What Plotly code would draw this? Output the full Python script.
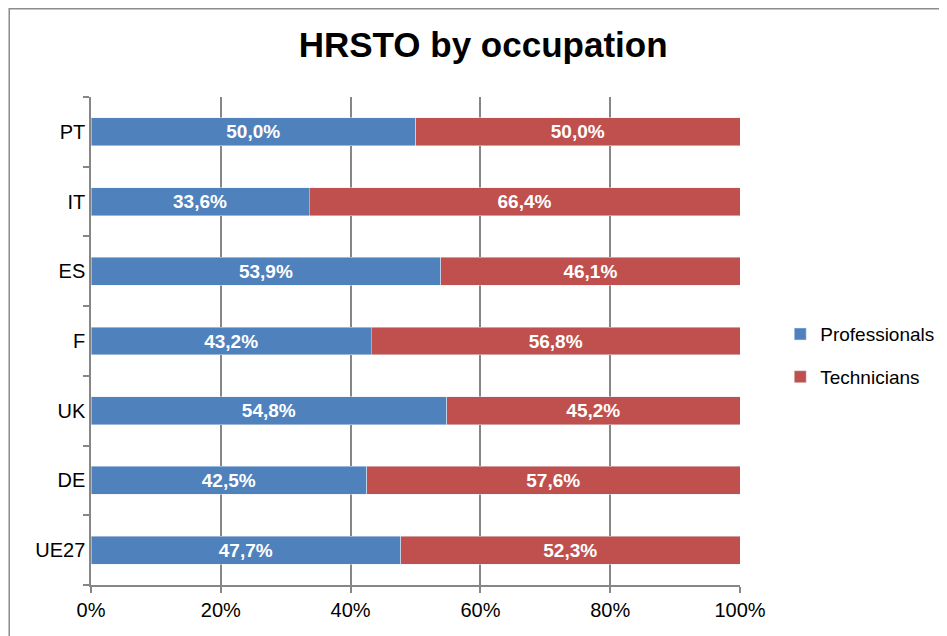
import plotly.graph_objects as go

countries = ["UE27", "DE", "UK", "F", "ES", "IT", "PT"]
professionals = [47.7, 42.5, 54.8, 43.2, 53.9, 33.6, 50.0]
technicians = [52.3, 57.6, 45.2, 56.8, 46.1, 66.4, 50.0]
x_ticks = [0, 20, 40, 60, 80, 100]


def pct_label(v):
    return f"{v:.1f}%".replace(".", ",")


fig = go.Figure()
fig.add_trace(
    go.Bar(
        y=countries, x=professionals, orientation="h", name="Professionals",
        marker_color="#4F81BD", legendgroup="p",
        text=[pct_label(v) for v in professionals], textposition="inside",
        insidetextanchor="middle",
        textfont=dict(color="white", size=19, family="Liberation Sans", weight="bold"),
        hoverinfo="skip",
    )
)
fig.add_trace(
    go.Bar(
        y=countries, x=technicians, orientation="h", name="Technicians",
        marker_color="#C0504D", legendgroup="t",
        text=[pct_label(v) for v in technicians], textposition="inside",
        insidetextanchor="middle",
        textfont=dict(color="white", size=19, family="Liberation Sans", weight="bold"),
        hoverinfo="skip",
    )
)

axis_gray = "#868686"

# page body has an 8px margin, so the figure is sized to fit the window
fig.update_layout(
    width=939, height=628,
    barmode="stack", barnorm="percent", bargap=0.6,
    paper_bgcolor="white", plot_bgcolor="white",
    margin=dict(l=83, r=207, t=89, b=51, autoexpand=False),
    font=dict(family="Liberation Sans", size=20, color="black"),
    title=dict(
        text="<b>HRSTO by occupation</b>",
        x=0.506, xanchor="center", y=0.941, yanchor="middle", yref="container",
        font=dict(size=35, family="Liberation Sans", color="black"),
    ),
    legend=dict(
        x=1.062, xanchor="left", y=0.47, yanchor="middle",
        traceorder="grouped", tracegroupgap=15,
        font=dict(size=19), itemwidth=30,
    ),
    xaxis=dict(
        range=[0, 100], tickvals=x_ticks, ticktext=[f"{t}%" for t in x_ticks],
        showgrid=True, gridcolor=axis_gray, gridwidth=1.5,
        showline=True, linecolor=axis_gray, linewidth=1.5,
        ticks="outside", ticklen=6, tickcolor=axis_gray, tickwidth=1.5,
        zeroline=False, fixedrange=True, automargin=False,
    ),
    yaxis=dict(
        showgrid=False, showline=True, linecolor=axis_gray, linewidth=1.5,
        ticks="outside", ticklen=6, tickcolor=axis_gray, tickwidth=1.5,
        tickson="boundaries", zeroline=False, fixedrange=True, automargin=False,
    ),
    shapes=[
        dict(
            type="rect", xref="paper", yref="paper",
            x0=-0.126, x1=1.33, y0=-0.12, y1=1.181,
            line=dict(color="#8C8C8C", width=1.5), layer="below",
        )
    ],
)

fig.write_html("out.html")
